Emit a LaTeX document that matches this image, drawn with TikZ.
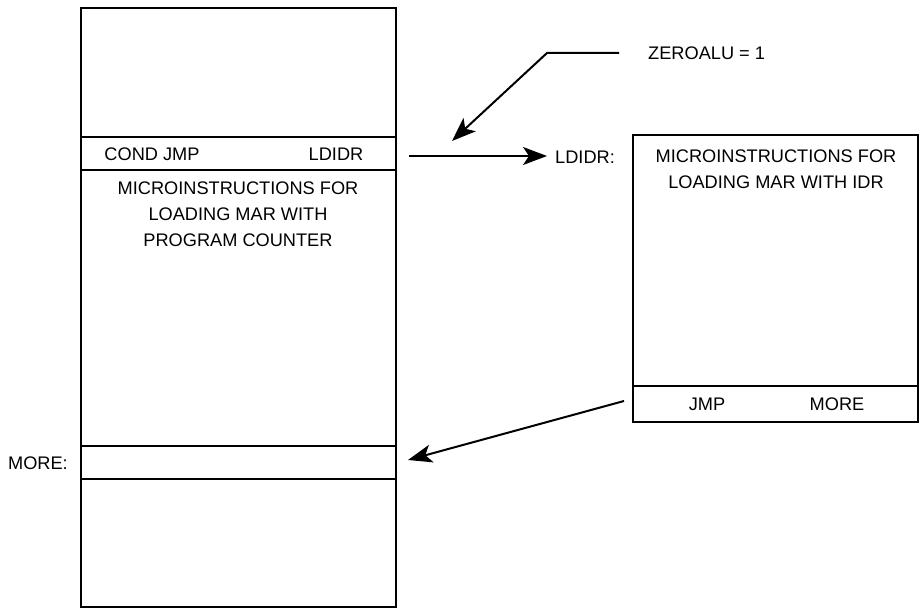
\documentclass[tikz,border=0pt]{standalone}
\usepackage{fontspec}
\setmainfont{Liberation Sans}
\usetikzlibrary{arrows.meta}
\begin{document}
\begin{tikzpicture}[x=1pt,y=-1pt,
  box/.style={draw=black,line width=2pt},
  lbl/.style={font=\fontsize{18.2}{22}\selectfont,inner sep=0pt},
  para/.style={font=\fontsize{18.2}{26}\selectfont,inner sep=0pt,align=center},
  arr/.style={line width=2pt,-{Stealth[length=24pt,width=18pt,inset=6pt]}}]
\useasboundingbox (0,0) rectangle (922,609);
% left memory box
\draw[box] (81,607) rectangle (396,8);
\draw[box] (81,137) -- (396,137);
\draw[box] (81,170) -- (396,170);
\draw[box] (81,446) -- (396,446);
\draw[box] (81,479) -- (396,479);
\node[lbl] (cond) at (152,154) {COND JMP};
\node[lbl] (ldidr1) at (336,154) {LDIDR};
\node[para] (mi1) at (238,214) {MICROINSTRUCTIONS FOR\\LOADING MAR WITH\\PROGRAM COUNTER};
\node[lbl,anchor=east] (morelbl) at (68,463) {MORE:};
% right box
\draw[box] (633,135) rectangle (918,422);
\draw[box] (633,386) -- (918,386);
\node[para] (mi2) at (776,169) {MICROINSTRUCTIONS FOR\\LOADING MAR WITH IDR};
\node[lbl] (jmp) at (707,404) {JMP};
\node[lbl] (more2) at (837,404) {MORE};
\node[lbl,anchor=west] (ldidr2) at (555,157) {LDIDR:};
\node[lbl,anchor=west] (zero) at (648,53) {ZEROALU = 1};
% connectors
\coordinate (a1) at (409,156);
\coordinate (a2) at (547,156);
\draw[arr] (a1) -- (a2);
\coordinate (z1) at (619,53);
\coordinate (z2) at (547,53);
\coordinate (z3) at (452,141);
\draw[arr] (z1) -- (z2) -- (z3);
\coordinate (b1) at (624,401);
\coordinate (b2) at (408,460);
\draw[arr] (b1) -- (b2);
\end{tikzpicture}
\end{document}
